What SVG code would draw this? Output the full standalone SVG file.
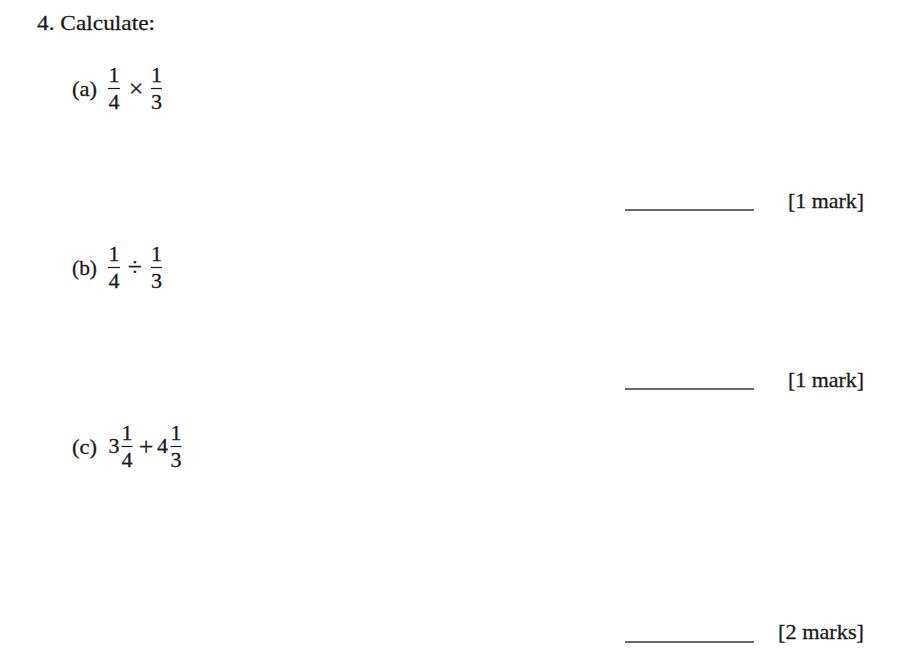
<svg xmlns="http://www.w3.org/2000/svg" width="909" height="672" viewBox="0 0 909 672">
<style>
text{font-family:"Liberation Serif","DejaVu Serif",serif;font-size:22px;fill:#1a1a1a;stroke:#1a1a1a;stroke-width:0.3}
.m{text-anchor:middle}
.op{font-size:26px;stroke-width:0.2}
.bar{stroke:#1a1a1a;stroke-width:1.2}
.ans{stroke:#3a3a3a;stroke-width:1.5}
</style>
<rect width="909" height="672" fill="#ffffff"/>
<g id="title"><text x="37" y="30" textLength="118" lengthAdjust="spacingAndGlyphs">4. Calculate:</text></g>
<g id="part-a">
<text x="72" y="96" textLength="25" lengthAdjust="spacingAndGlyphs">(a)</text>
<text class="m" x="114" y="82">1</text><line class="bar" x1="108" y1="88.5" x2="120" y2="88.5"/><text class="m" x="114" y="109">4</text>
<text class="m op" x="136" y="97">×</text>
<text class="m" x="156.5" y="82">1</text><line class="bar" x1="151" y1="88.5" x2="162" y2="88.5"/><text class="m" x="156.5" y="109">3</text>
</g>
<g id="answer-a">
<line class="ans" x1="625" y1="210" x2="754" y2="210"/>
<text x="788" y="208" textLength="76" lengthAdjust="spacingAndGlyphs">[1 mark]</text>
</g>
<g id="part-b">
<text x="72" y="275" textLength="25" lengthAdjust="spacingAndGlyphs">(b)</text>
<text class="m" x="114" y="261">1</text><line class="bar" x1="108" y1="267.5" x2="120" y2="267.5"/><text class="m" x="114" y="288">4</text>
<text class="m op" x="135" y="276">÷</text>
<text class="m" x="156.5" y="261">1</text><line class="bar" x1="151" y1="267.5" x2="162" y2="267.5"/><text class="m" x="156.5" y="288">3</text>
</g>
<g id="answer-b">
<line class="ans" x1="625" y1="389" x2="754" y2="389"/>
<text x="788" y="387" textLength="76" lengthAdjust="spacingAndGlyphs">[1 mark]</text>
</g>
<g id="part-c">
<text x="72" y="454" textLength="25" lengthAdjust="spacingAndGlyphs">(c)</text>
<text class="m" x="114" y="453">3</text>
<text class="m" x="127" y="440">1</text><line class="bar" x1="121.5" y1="446.5" x2="132.5" y2="446.5"/><text class="m" x="127" y="467">4</text>
<text class="m op" x="146" y="455">+</text>
<text class="m" x="162.5" y="453">4</text>
<text class="m" x="176" y="440">1</text><line class="bar" x1="170.5" y1="446.5" x2="181.5" y2="446.5"/><text class="m" x="176" y="467">3</text>
</g>
<g id="answer-c">
<line class="ans" x1="625" y1="642" x2="754" y2="642"/>
<text x="778" y="639" textLength="86" lengthAdjust="spacingAndGlyphs">[2 marks]</text>
</g>
</svg>
